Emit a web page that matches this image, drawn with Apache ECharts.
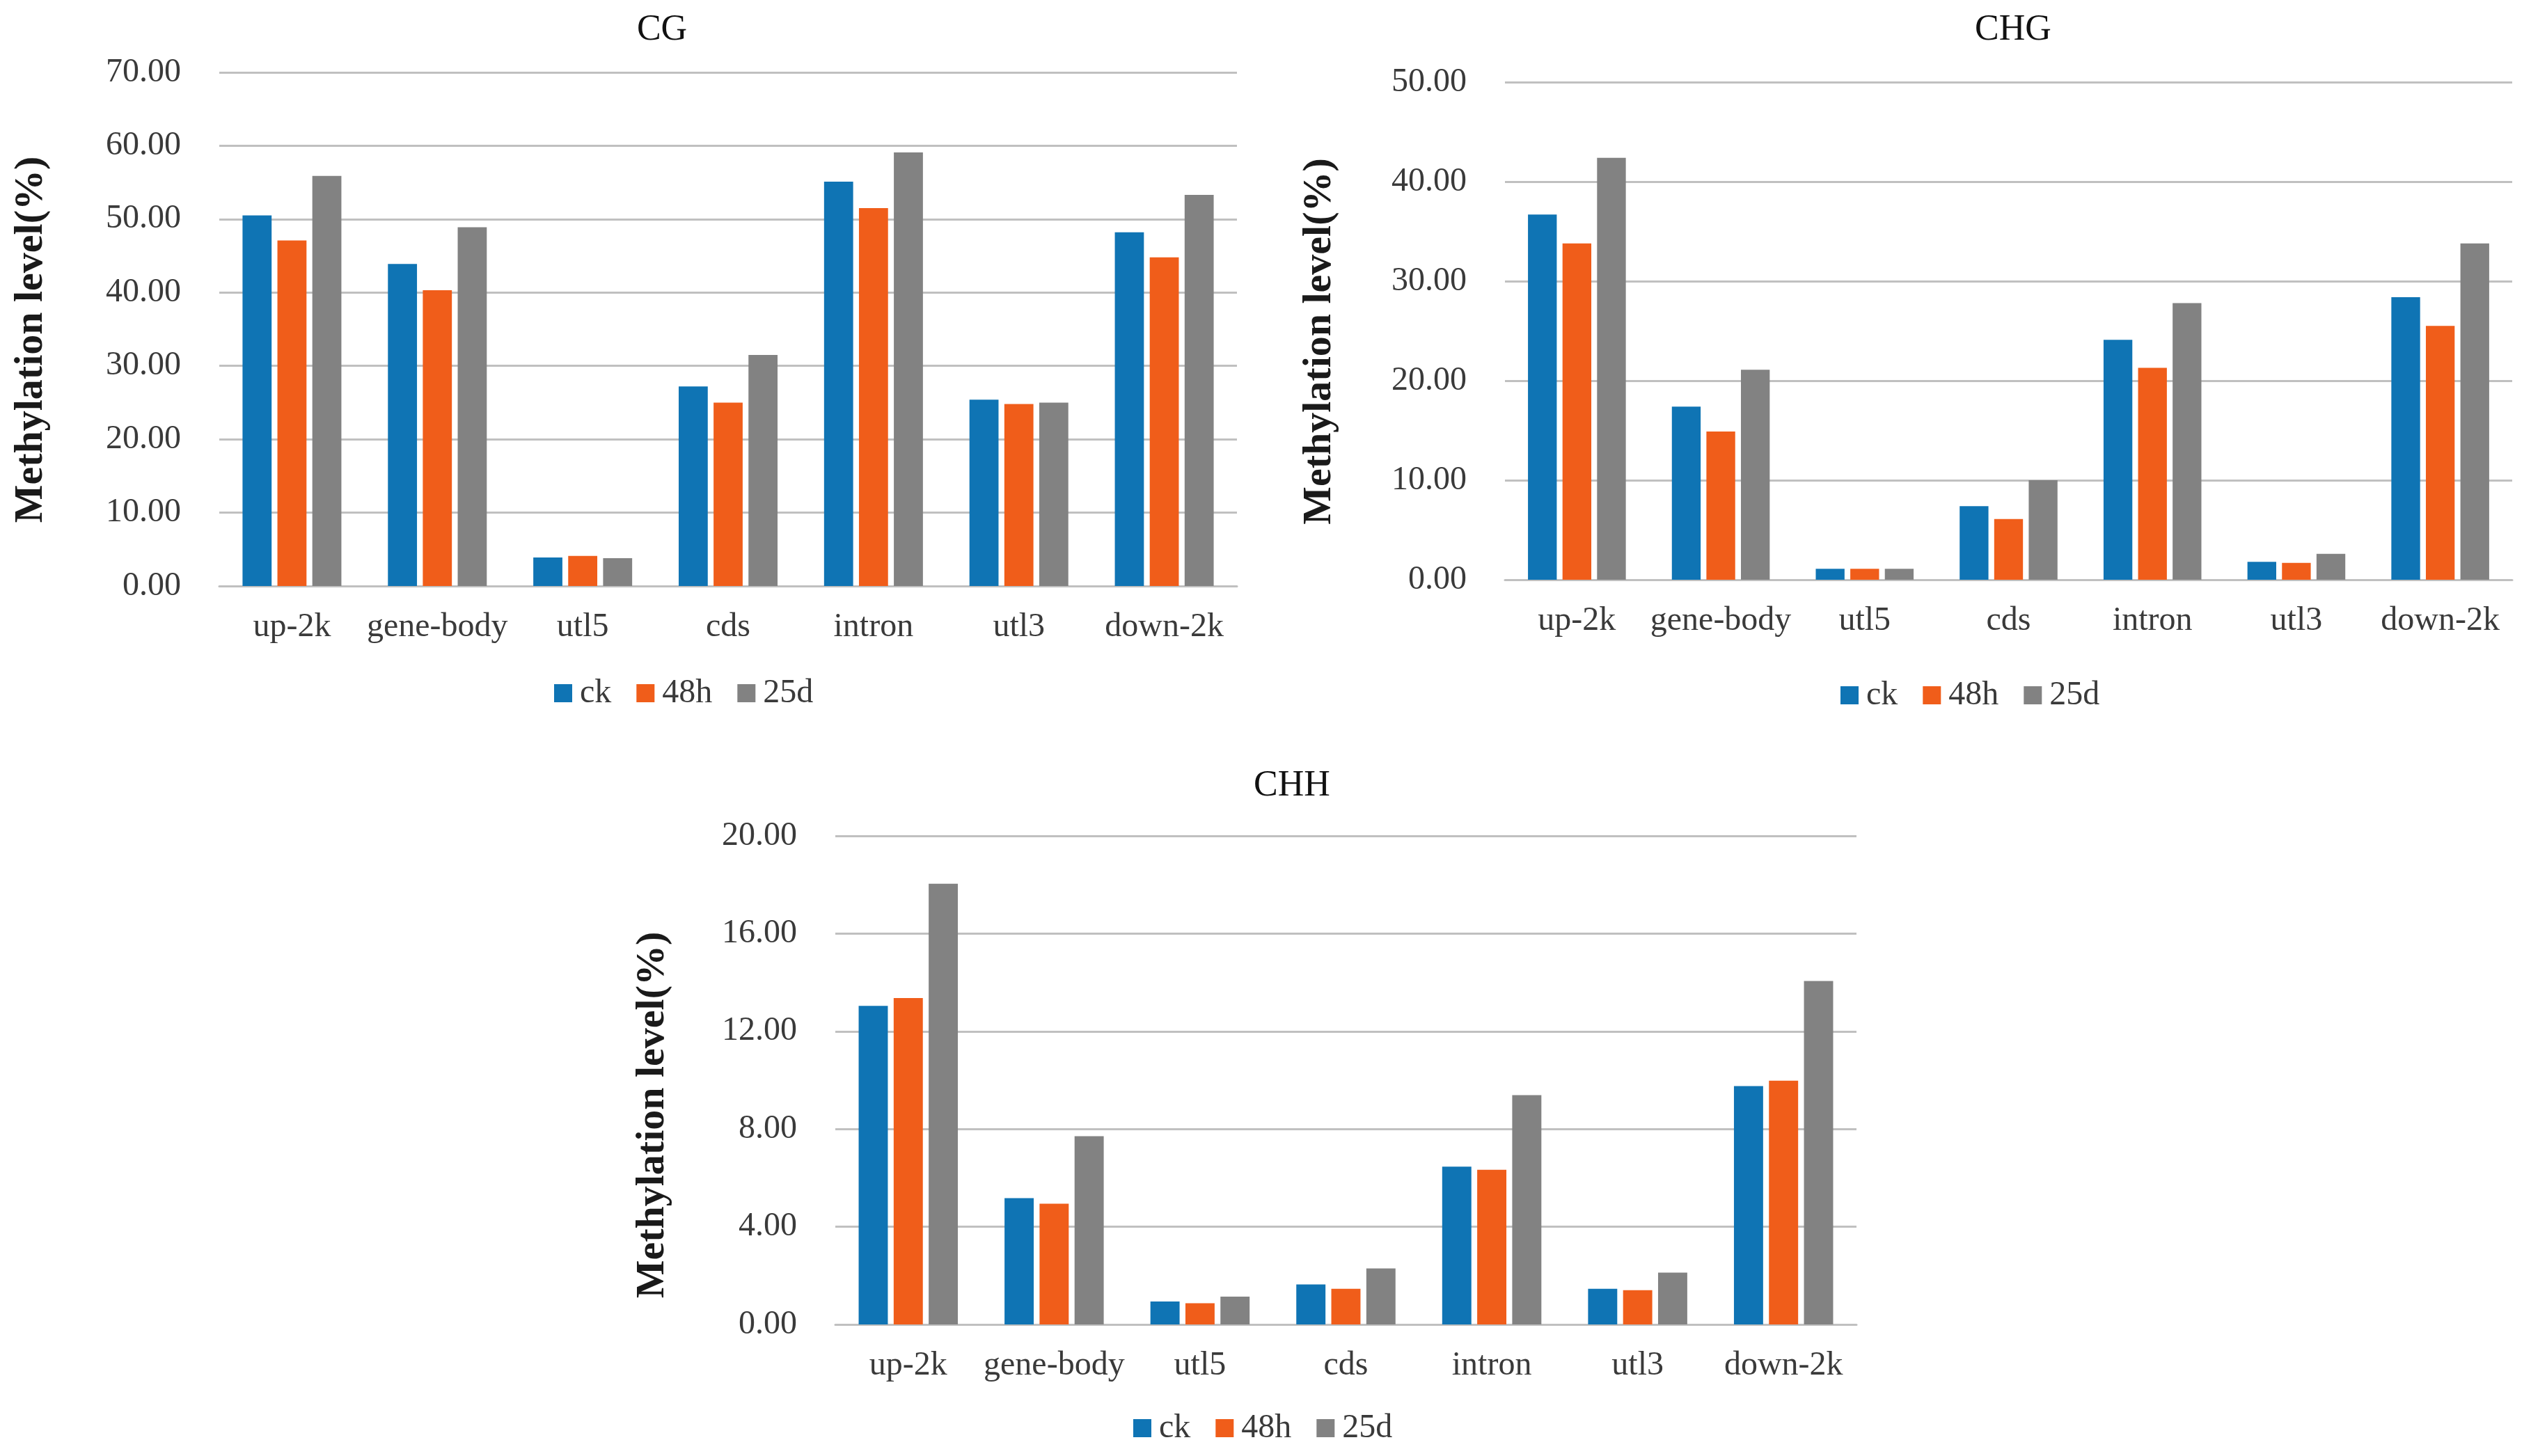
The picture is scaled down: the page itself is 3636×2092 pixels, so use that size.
<!DOCTYPE html>
<html>
<head>
<meta charset="utf-8">
<script src="https://cdn.jsdelivr.net/npm/echarts@6/dist/echarts.min.js"></script>
<style>
  html, body { margin: 0; padding: 0; background: #fff; }
  #container { width: 3636px; height: 2092px; }
</style>
</head>
<body>
<div id="container"></div>
<script>
var categories = ['up-2k', 'gene-body', 'utl5', 'cds', 'intron', 'utl3', 'down-2k'];
var seriesNames = ['ck', '48h', '25d'];
var colors = ['#0f74b4', '#f05d1a', '#828282'];

var cgCk  = [50.5, 43.9, 3.9, 27.2, 55.1, 25.4, 48.2];
var cg48h = [47.1, 40.3, 4.1, 25.0, 51.5, 24.8, 44.8];
var cg25d = [55.9, 48.9, 3.8, 31.5, 59.1, 25.0, 53.3];

var chgCk  = [36.7, 17.4, 1.1, 7.4, 24.1, 1.8, 28.4];
var chg48h = [33.8, 14.9, 1.1, 6.1, 21.3, 1.7, 25.5];
var chg25d = [42.4, 21.1, 1.1, 10.0, 27.8, 2.6, 33.8];

var chhCk  = [13.04, 5.17, 0.94, 1.64, 6.46, 1.46, 9.76];
var chh48h = [13.36, 4.94, 0.87, 1.46, 6.33, 1.40, 9.98];
var chh25d = [18.04, 7.71, 1.14, 2.29, 9.39, 2.12, 14.06];

var font = 'Liberation Serif';
var dom = document.getElementById('container');
var myChart = echarts.init(dom);

function xAxisFor(idx) {
    return {
        type: 'category',
        gridIndex: idx,
        data: categories,
        axisTick: { show: false },
        axisLine: { lineStyle: { color: '#c0c0c0', width: 3 } },
        axisLabel: { interval: 0, fontFamily: font, fontSize: 48, color: '#3a3a3a', margin: 35 }
    };
}

// shift: pushes the rotated axis name down along the axis
function yAxisFor(idx, max, interval, gap, shift) {
    return {
        type: 'value',
        gridIndex: idx,
        min: 0,
        max: max,
        interval: interval,
        name: 'Methylation level(%)',
        nameLocation: 'middle',
        nameRotate: 90,
        nameGap: gap,
        nameTextStyle: { fontFamily: font, fontSize: 58, fontWeight: 'bold', color: '#1a1a1a', padding: [0, shift, 0, 0] },
        axisLine: { show: false },
        axisTick: { show: false },
        splitLine: { lineStyle: { color: '#c0c0c0', width: 3 } },
        axisLabel: {
            fontFamily: font, fontSize: 48, color: '#3a3a3a', margin: 55,
            formatter: function (v) { return v.toFixed(2); }
        }
    };
}

function barsFor(idx, lists) {
    return lists.map(function (vals, i) {
        return {
            name: seriesNames[i],
            type: 'bar',
            xAxisIndex: idx,
            yAxisIndex: idx,
            data: vals,
            barGap: '20%',
            barCategoryGap: '32%',
            itemStyle: { color: colors[i] }
        };
    });
}

function legendFor(left, top) {
    return {
        data: seriesNames,
        left: left,
        top: top,
        itemWidth: 26,
        itemHeight: 26,
        itemGap: 36,
        icon: 'rect',
        textStyle: { fontFamily: font, fontSize: 48, color: '#3a3a3a', padding: [0, 0, 0, 6] }
    };
}

var titleStyle = { fontFamily: font, fontSize: 52, fontWeight: 'normal', color: '#111' };

option = {
    backgroundColor: '#fff',
    color: colors,
    title: [
        { text: 'CG', left: 946, top: 12, textAlign: 'center', textStyle: titleStyle },
        { text: 'CHG', left: 2887, top: 12, textAlign: 'center', textStyle: titleStyle },
        { text: 'CHH', left: 1851, top: 1098, textAlign: 'center', textStyle: titleStyle }
    ],
    legend: [
        legendFor(791, 967),
        legendFor(2639, 970),
        legendFor(1623, 2023)
    ],
    grid: [
        { left: 315, right: 1859, top: 104, bottom: 1250 },
        { left: 2162, right: 27, top: 118, bottom: 1259 },
        { left: 1200, right: 969, top: 1201, bottom: 189 }
    ],
    xAxis: [xAxisFor(0), xAxisFor(1), xAxisFor(2)],
    yAxis: [
        yAxisFor(0, 70, 10, 241, 30),
        yAxisFor(1, 50, 10, 237, 30),
        yAxisFor(2, 20, 4, 233, 100)
    ],
    series: []
        .concat(barsFor(0, [cgCk, cg48h, cg25d]))
        .concat(barsFor(1, [chgCk, chg48h, chg25d]))
        .concat(barsFor(2, [chhCk, chh48h, chh25d]))
};
myChart.setOption(option, true);
</script>
</body>
</html>
